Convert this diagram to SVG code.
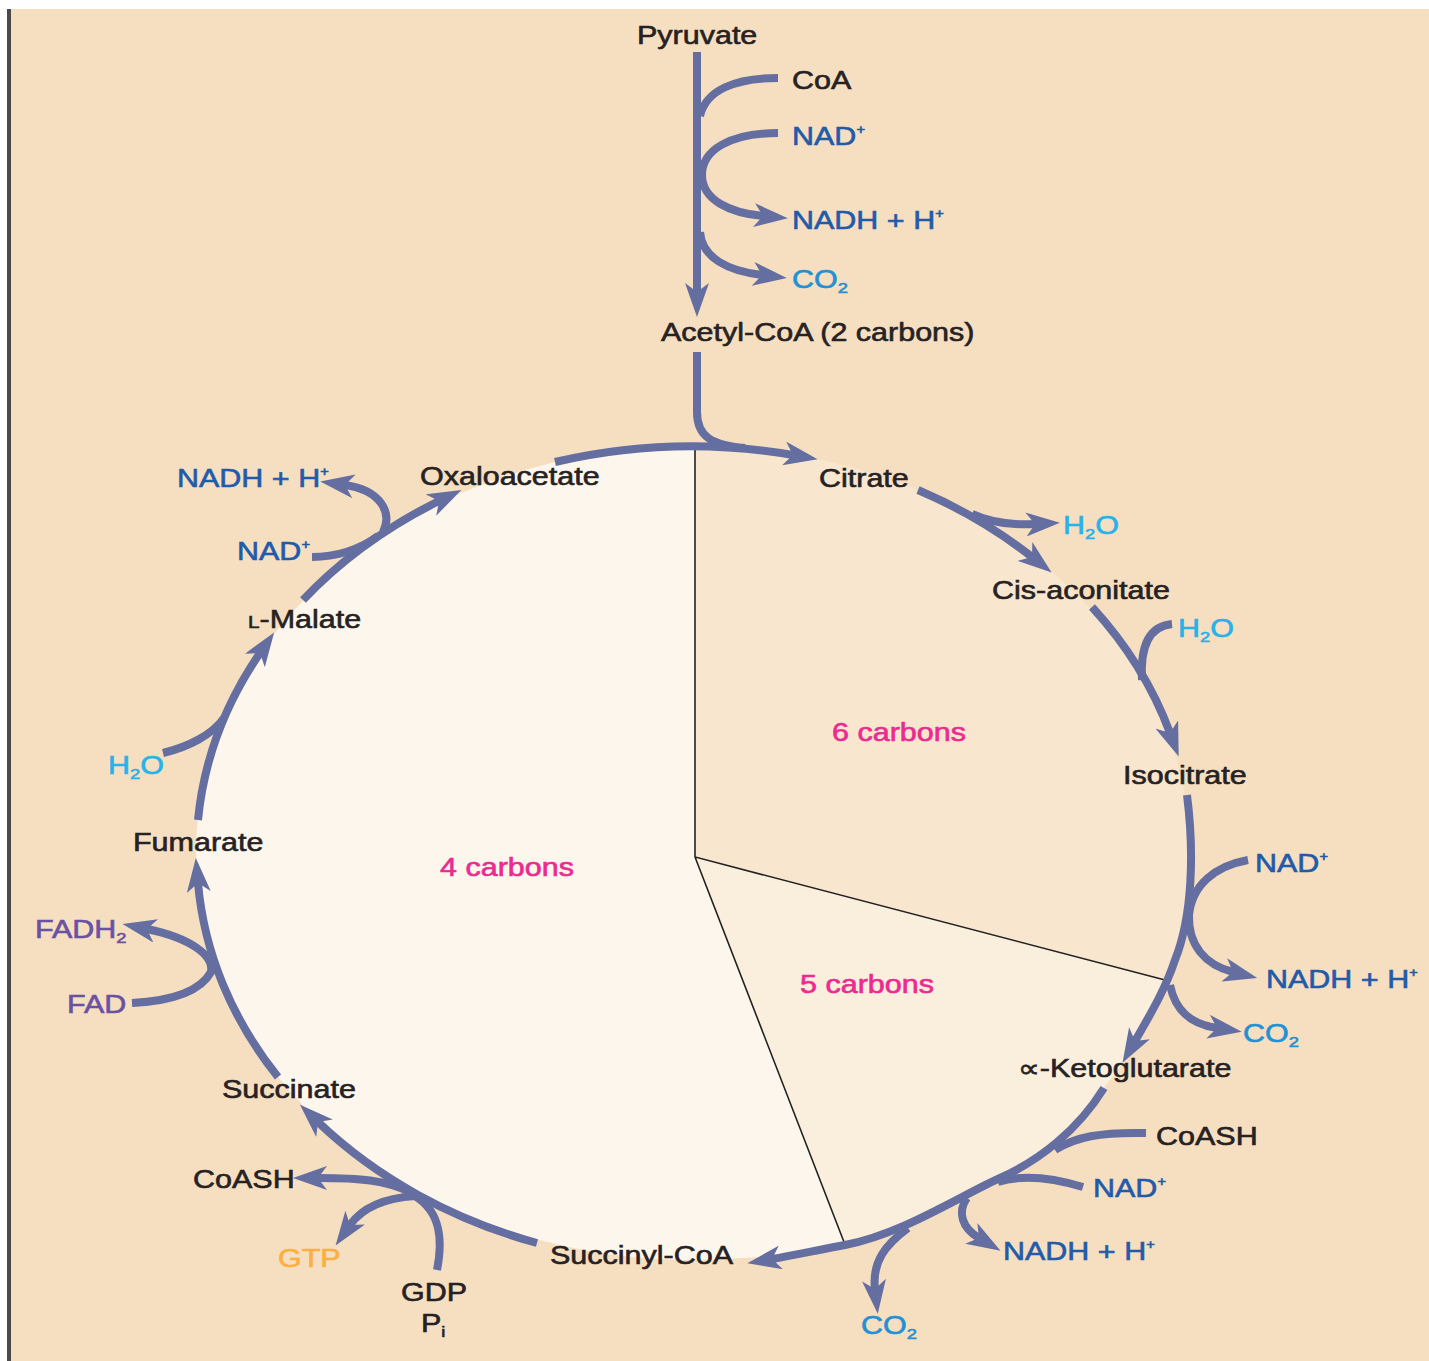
<svg xmlns="http://www.w3.org/2000/svg" width="1429" height="1361" viewBox="0 0 1429 1361">
<style>
.t{font-family:"Liberation Sans",Arial,Helvetica,sans-serif;font-size:25px;stroke-width:0.6px}
.dk{fill:#262223;stroke:#262223}
.nb{fill:#1F5BAA;stroke:#1F5BAA}
.cy{fill:#27B2EA;stroke:#27B2EA}
.co{fill:#2290D4;stroke:#2290D4}
.fd{fill:#6A52A3;stroke:#6A52A3}
.gt{fill:#FBB040;stroke:#FBB040}
.mg{fill:#EC2A8F;stroke:#EC2A8F}
.sup{font-size:12px}
.sub{font-size:15px}
.c{fill:none;stroke:#646EA0;stroke-width:8}
.a{marker-end:url(#ah)}
.sl{stroke:#222;stroke-width:1.6;fill:none}
</style>
<defs>
<marker id="ah" viewBox="0 0 34 24" refX="9" refY="12" markerWidth="34" markerHeight="24" markerUnits="userSpaceOnUse" orient="auto">
<path d="M0,0 L34,12 L0,24 L9,12 Z" fill="#646EA0"/>
</marker>
</defs>
<rect x="0" y="0" width="1429" height="1361" fill="#FFFFFF"/>
<rect x="9" y="9" width="1420" height="1352" fill="#F6DEC0"/>
<rect x="7" y="9" width="4" height="1352" fill="#4A4A4A"/>
<g id="pie">
<path d="M695,857 L695,446 A497,407 0 0 1 1165,980 Z" fill="#F9E6CF"/>
<path d="M695,857 L1165,980 C1155,1005 1140,1040 1123,1063 L1104,1088 C1078,1130 1040,1160 1000,1178 C960,1196 900,1235 844,1243 Z" fill="#FAEEDD"/>
<path d="M695,857 L844,1243 C810,1250 790,1254 760,1257 L742,1258 A497,407 0 0 1 196,853 A497,407 0 0 1 695,446 Z" fill="#FDF6EC"/>
<path class="sl" d="M695,448 L695,857 L1165,980 M695,857 L844,1242"/>
</g>
<g id="connectors">
<path class="c a" d="M697,52 L697,292"/>
<path class="c" d="M778,78 C735,78 706,90 700,116"/>
<path class="c a" d="M778,133 C730,133 702,150 702,175 C702,200 730,213 763,216"/>
<path class="c a" d="M700,232 C702,258 728,271 762,275"/>
<path class="c" d="M697,352 L697,412 C697,437 712,445 745,448"/>
<path class="c a" d="M555,462 A497,407 0 0 1 793,455"/>
<path class="c a" d="M918,490 A497,407 0 0 1 1032,557"/>
<path class="c a" d="M972,514 Q998,526 1035,524"/>
<path class="c a" d="M1092,607 A497,407 0 0 1 1170,733"/>
<path class="c" d="M1172,624 C1150,626 1140,645 1142,680"/>
<path class="c a" d="M1187,795 C1194,850 1193,915 1175,960 C1165,990 1150,1015 1135,1041"/>
<path class="c a" d="M1248,860 C1215,866 1192,885 1189,915 C1188,945 1205,965 1233,972"/>
<path class="c a" d="M1170,985 C1175,1010 1190,1024 1217,1028"/>
<path class="c a" d="M1104,1088 C1078,1130 1040,1160 1000,1178 C960,1196 900,1235 845,1245 C820,1249.5 795,1255 772,1259"/>
<path class="c" d="M1146,1133 C1100,1132 1075,1137 1055,1150"/>
<path class="c" d="M1083,1187 C1050,1177 1020,1175 998,1182"/>
<path class="c a" d="M967,1198 C957,1212 962,1228 979,1238"/>
<path class="c a" d="M908,1228 C885,1245 872,1262 875,1289"/>
<path class="c a" d="M537,1243 A497,407 0 0 1 318,1122"/>
<path class="c a" d="M410,1192 C385,1180 360,1178 318,1178"/>
<path class="c a" d="M415,1196 C385,1198 362,1208 350,1225"/>
<path class="c" d="M437,1270 C443,1240 441,1212 415,1196"/>
<path class="c a" d="M278,1077 A497,407 0 0 1 198,883"/>
<path class="c a" d="M132,1003 C170,1001 200,992 211,972 C214,955 190,938 147,929"/>
<path class="c a" d="M198,820 A497,407 0 0 1 260,653"/>
<path class="c" d="M163,753 C188,747 212,735 224,718"/>
<path class="c a" d="M303,600 A497,407 0 0 1 439,501"/>
<path class="c" d="M312,557 C335,557 360,550 378,536"/>
<path class="c a" d="M383,532 C393,512 380,490 345,485"/>
</g>
<g id="pyruvate"><text class="t dk" transform="translate(637,44) scale(1.22,1)">Pyruvate</text></g>
<g id="coa-top"><text class="t dk" transform="translate(792,89) scale(1.22,1)">CoA</text></g>
<g id="nad-top"><text class="t nb" transform="translate(792,145) scale(1.22,1)">NAD<tspan class="sup" dy="-11">+</tspan></text></g>
<g id="nadh-top"><text class="t nb" transform="translate(792,229) scale(1.22,1)">NADH + H<tspan class="sup" dy="-11">+</tspan></text></g>
<g id="co2-top"><text class="t co" transform="translate(792,288) scale(1.22,1)">CO<tspan class="sub" dy="5">2</tspan></text></g>
<g id="acetylcoa"><text class="t dk" transform="translate(661,341) scale(1.22,1)">Acetyl-CoA (2 carbons)</text></g>
<g id="citrate"><text class="t dk" transform="translate(819,487) scale(1.22,1)">Citrate</text></g>
<g id="h2o-1"><text class="t cy" transform="translate(1063,534) scale(1.22,1)">H<tspan class="sub" dy="5">2</tspan><tspan dy="-5">O</tspan></text></g>
<g id="cisaconitate"><text class="t dk" transform="translate(992,599) scale(1.22,1)">Cis-aconitate</text></g>
<g id="h2o-2"><text class="t cy" transform="translate(1178,637) scale(1.22,1)">H<tspan class="sub" dy="5">2</tspan><tspan dy="-5">O</tspan></text></g>
<g id="six-carbons"><text class="t mg" transform="translate(832,741) scale(1.22,1)">6 carbons</text></g>
<g id="isocitrate"><text class="t dk" transform="translate(1123,784) scale(1.22,1)">Isocitrate</text></g>
<g id="nad-right"><text class="t nb" transform="translate(1255,872) scale(1.22,1)">NAD<tspan class="sup" dy="-11">+</tspan></text></g>
<g id="nadh-right"><text class="t nb" transform="translate(1266,988) scale(1.22,1)">NADH + H<tspan class="sup" dy="-11">+</tspan></text></g>
<g id="co2-right"><text class="t co" transform="translate(1243,1042) scale(1.22,1)">CO<tspan class="sub" dy="5">2</tspan></text></g>
<g id="ketoglutarate"><text class="t dk" transform="translate(1018,1077) scale(1.22,1)"><tspan font-size="25">∝</tspan>-Ketoglutarate</text></g>
<g id="coash-right"><text class="t dk" transform="translate(1156,1145) scale(1.22,1)">CoASH</text></g>
<g id="nad-bottom"><text class="t nb" transform="translate(1093,1197) scale(1.22,1)">NAD<tspan class="sup" dy="-11">+</tspan></text></g>
<g id="nadh-bottom"><text class="t nb" transform="translate(1003,1260) scale(1.22,1)">NADH + H<tspan class="sup" dy="-11">+</tspan></text></g>
<g id="co2-bottom"><text class="t co" transform="translate(861,1334) scale(1.22,1)">CO<tspan class="sub" dy="5">2</tspan></text></g>
<g id="succinylcoa"><text class="t dk" transform="translate(550,1264) scale(1.22,1)">Succinyl-CoA</text></g>
<g id="gdp-pi"><text class="t dk" transform="translate(401,1301) scale(1.22,1)">GDP</text><text class="t dk" transform="translate(421,1332) scale(1.22,1)">P<tspan class="sub" dy="5">i</tspan></text></g>
<g id="gtp"><text class="t gt" transform="translate(278,1267) scale(1.22,1)">GTP</text></g>
<g id="coash-left"><text class="t dk" transform="translate(193,1188) scale(1.22,1)">CoASH</text></g>
<g id="succinate"><text class="t dk" transform="translate(222,1098) scale(1.22,1)">Succinate</text></g>
<g id="fad"><text class="t fd" transform="translate(67,1013) scale(1.22,1)">FAD</text></g>
<g id="fadh2"><text class="t fd" transform="translate(35,938) scale(1.22,1)">FADH<tspan class="sub" dy="5">2</tspan></text></g>
<g id="fumarate"><text class="t dk" transform="translate(133,851) scale(1.22,1)">Fumarate</text></g>
<g id="h2o-3"><text class="t cy" transform="translate(108,774) scale(1.22,1)">H<tspan class="sub" dy="5">2</tspan><tspan dy="-5">O</tspan></text></g>
<g id="four-carbons"><text class="t mg" transform="translate(440,876) scale(1.22,1)">4 carbons</text></g>
<g id="five-carbons"><text class="t mg" transform="translate(800,993) scale(1.22,1)">5 carbons</text></g>
<g id="malate"><text class="t dk" transform="translate(248,628) scale(1.22,1)"><tspan font-size="17">L</tspan>-Malate</text></g>
<g id="nad-left"><text class="t nb" transform="translate(237,560) scale(1.22,1)">NAD<tspan class="sup" dy="-11">+</tspan></text></g>
<g id="nadh-left"><text class="t nb" transform="translate(177,487) scale(1.22,1)">NADH + H<tspan class="sup" dy="-11">+</tspan></text></g>
<g id="oxaloacetate"><text class="t dk" transform="translate(420,485) scale(1.22,1)">Oxaloacetate</text></g>
</svg>
